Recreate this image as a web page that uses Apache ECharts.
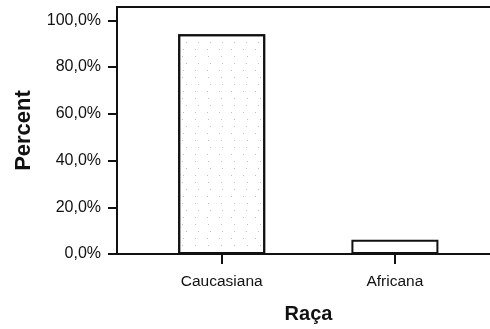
<!DOCTYPE html>
<html>
<head>
<meta charset="utf-8">
<script src="https://cdn.jsdelivr.net/npm/echarts@6/dist/echarts.min.js"></script>
<style>
  html, body { margin: 0; padding: 0; background: #fff; }
  #chart { width: 490px; height: 329px; }
</style>
</head>
<body>
<div id="chart"></div>
<script>
// data
var categories = ['Caucasiana', 'Africana'];
var percents = [94.0, 6.1];
var yTicks = [0, 20, 40, 60, 80, 100];

var fontFam = '"Liberation Sans", Arial, sans-serif';

var chart = echarts.init(document.getElementById('chart'));

var barData = categories.map(function (c, i) {
  var item = { value: [i, percents[i]] };
  if (i === 0) {
    // sparse grey stipple like the original print
    item.itemStyle = {
      decal: {
        symbol: 'rect',
        symbolSize: 1,
        color: 'rgba(120,120,120,0.45)',
        dashArrayX: [[1, 12], [0, 6, 1, 5], [0, 3, 1, 8]],
        dashArrayY: [1, 6]
      }
    };
  }
  return item;
});

var option = {
  animation: false,
  backgroundColor: '#fff',
  grid: { left: 117, right: 0, top: 7, bottom: 73 },
  xAxis: [{
    type: 'value',
    min: -0.6045,
    max: 1.549,
    name: 'Raça',
    nameLocation: 'middle',
    nameGap: 50,
    nameTextStyle: { fontFamily: fontFam, fontSize: 20, fontWeight: 'bold', color: '#111', padding: [0, 0, 0, 10] },
    splitLine: { show: false },
    axisLine: { show: true, onZero: false, lineStyle: { color: '#111', width: 2 } },
    axisTick: { show: true, length: 10, customValues: [0, 1], lineStyle: { color: '#111', width: 2 } },
    axisLabel: {
      customValues: [0, 1],
      margin: 20,
      fontFamily: fontFam,
      fontSize: 15.5,
      color: '#111',
      formatter: function (v) { return categories[Math.round(v)] || ''; }
    }
  }, {
    type: 'value',
    position: 'top',
    min: -0.6045,
    max: 1.549,
    splitLine: { show: false },
    axisLine: { show: true, onZero: false, lineStyle: { color: '#111', width: 2 } },
    axisTick: { show: false },
    axisLabel: { show: false }
  }],
  yAxis: {
    type: 'value',
    min: 0,
    max: 105.7,
    name: 'Percent',
    nameLocation: 'middle',
    nameGap: 82,
    nameTextStyle: { fontFamily: fontFam, fontSize: 22, fontWeight: 'bold', color: '#111' },
    splitLine: { show: false },
    axisLine: { show: true, onZero: false, lineStyle: { color: '#111', width: 2 } },
    axisTick: { show: true, length: 9, customValues: yTicks, lineStyle: { color: '#111', width: 2 } },
    axisLabel: {
      customValues: yTicks,
      margin: 16,
      fontFamily: fontFam,
      fontSize: 16,
      color: '#111',
      formatter: function (v) { return v.toFixed(1).replace('.', ',') + '%'; }
    }
  },
  series: [{
    type: 'bar',
    xAxisIndex: 0,
    barWidth: 87,
    data: barData,
    itemStyle: { color: '#fff', borderColor: '#111', borderWidth: 2 }
  }]
};

chart.setOption(option);

window.addEventListener('resize', function () {
  chart.resize();
});
</script>
</body>
</html>
